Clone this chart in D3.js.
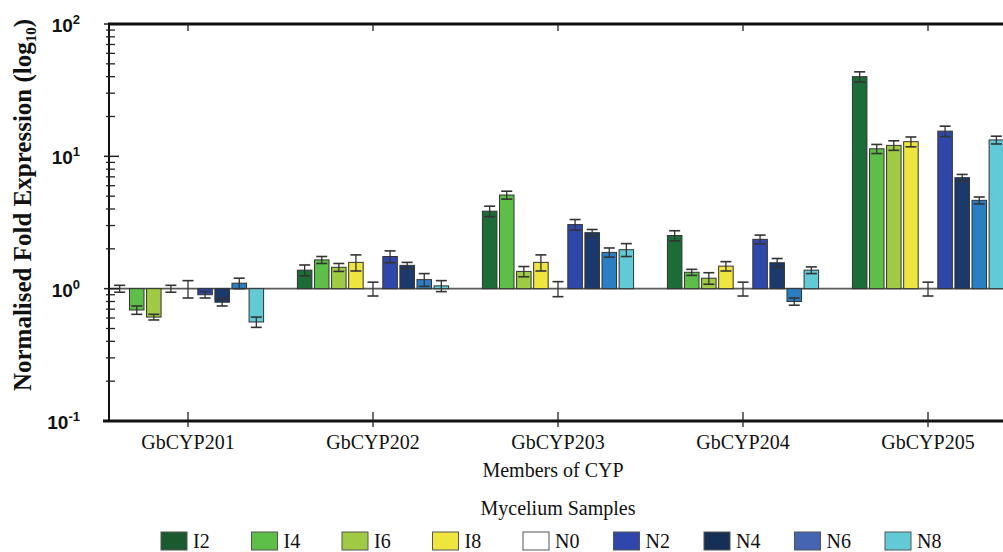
<!DOCTYPE html>
<html>
<head>
<meta charset="utf-8">
<script src="https://cdn.jsdelivr.net/npm/d3@7"></script>
<style>
  body { margin: 0; background: #fff; }
  svg { display: block; }
</style>
</head>
<body>
<svg id="chart" width="1003" height="552"></svg>
<script>
'use strict';

// Données
const genes = ["GbCYP201", "GbCYP202", "GbCYP203", "GbCYP204", "GbCYP205"];
const samples = ["I2", "I4", "I6", "I8", "N0", "N2", "N4", "N6", "N8"];

const meanCYP201 = [1.00, 0.69, 0.61, 1.00, 1.00, 0.90, 0.79, 1.10, 0.56];
const errCYP201  = [0.06, 0.05, 0.03, 0.06, 0.15, 0.05, 0.05, 0.10, 0.05];
const meanCYP202 = [1.38, 1.65, 1.45, 1.58, 1.00, 1.75, 1.50, 1.17, 1.05];
const errCYP202  = [0.13, 0.10, 0.10, 0.22, 0.12, 0.18, 0.08, 0.13, 0.10];
const meanCYP203 = [3.85, 5.10, 1.35, 1.58, 1.00, 3.05, 2.65, 1.88, 1.97];
const errCYP203  = [0.35, 0.35, 0.12, 0.22, 0.13, 0.28, 0.15, 0.15, 0.22];
const meanCYP204 = [2.52, 1.33, 1.20, 1.48, 1.00, 2.36, 1.57, 0.80, 1.38];
const errCYP204  = [0.22, 0.07, 0.12, 0.12, 0.12, 0.18, 0.12, 0.05, 0.08];
const meanCYP205 = [40.0, 11.4, 12.1, 12.9, 1.00, 15.5, 6.90, 4.65, 13.3];
const errCYP205  = [3.5, 0.9, 1.0, 1.1, 0.12, 1.4, 0.4, 0.28, 0.9];

const means = [meanCYP201, meanCYP202, meanCYP203, meanCYP204, meanCYP205];
const errors = [errCYP201, errCYP202, errCYP203, errCYP204, errCYP205];

const barColors = ["#1c6c38", "#5dbe48", "#9fcb42", "#eee63e", "#ffffff",
                   "#2f47aa", "#1b3a6b", "#2a7fc4", "#62c9d6"];
const legendColors = ["#1a5a2f", "#5dbe48", "#9fcb42", "#eee63e", "#ffffff",
                      "#2f47aa", "#163055", "#4565b3", "#62c9d6"];

const decades = [0.1, 1, 10, 100];
const decadeExp = ["-1", "0", "1", "2"];

const svg = d3.select("#chart");
const serif = "'Liberation Serif', 'Times New Roman', Times, serif";
const sans = "'Liberation Sans', Arial, sans-serif";

// Echelles
const x = d3.scalePoint().domain(genes).range([109, 1007]).padding(0.427);
const xInner = d3.scaleBand().domain(samples).range([-75.6, 75.6]).paddingInner(0.15);
const y = d3.scaleLog().domain([0.1, 100]).range([421, 24]);

// Ligne de base à 10^0
svg.append("line")
    .attr("x1", 109).attr("x2", 1003)
    .attr("y1", y(1)).attr("y2", y(1))
    .attr("stroke", "#5a5a5a").attr("stroke-width", 1.6);

// Barres + barres d'erreur
const rows = [];
genes.forEach((g, gi) => {
    samples.forEach((s, si) => {
        rows.push({ gene: g, sample: s, idx: si, v: means[gi][si], e: errors[gi][si] });
    });
});

const groups = svg.append("g").selectAll("g.bar")
    .data(rows)
    .join("g")
    .attr("class", "bar")
    .attr("transform", d => `translate(${x(d.gene) + xInner(d.sample)},0)`);

groups.filter(d => d.v !== 1).append("rect")
    .attr("x", 0)
    .attr("width", xInner.bandwidth())
    .attr("y", d => Math.min(y(d.v), y(1)))
    .attr("height", d => Math.abs(y(d.v) - y(1)))
    .attr("fill", d => barColors[d.idx])
    .attr("stroke", "#333")
    .attr("stroke-width", 1);

const bw = xInner.bandwidth();
const capW = 11;
groups.append("line")
    .attr("x1", bw / 2).attr("x2", bw / 2)
    .attr("y1", d => y(d.v + d.e)).attr("y2", d => y(d.v - d.e))
    .attr("stroke", "#333").attr("stroke-width", 1.3);
groups.append("line")
    .attr("x1", bw / 2 - capW / 2).attr("x2", bw / 2 + capW / 2)
    .attr("y1", d => y(d.v + d.e)).attr("y2", d => y(d.v + d.e))
    .attr("stroke", "#333").attr("stroke-width", 1.6);
groups.append("line")
    .attr("x1", bw / 2 - capW / 2).attr("x2", bw / 2 + capW / 2)
    .attr("y1", d => y(d.v - d.e)).attr("y2", d => y(d.v - d.e))
    .attr("stroke", "#333").attr("stroke-width", 1.6);

// Axe Y : ticks majeurs et mineurs
const minors = [];
decades.slice(0, 3).forEach(d => {
    for (let k = 2; k <= 9; k++) minors.push(d * k);
});
svg.append("line")
    .attr("x1", 109).attr("x2", 109).attr("y1", 24).attr("y2", 421)
    .attr("stroke", "#111").attr("stroke-width", 2);
svg.append("g").selectAll("line")
    .data(minors)
    .join("line")
    .attr("x1", 106).attr("x2", 115)
    .attr("y1", d => y(d)).attr("y2", d => y(d))
    .attr("stroke", "#222").attr("stroke-width", 1.3);
svg.append("g").selectAll("line")
    .data(decades)
    .join("line")
    .attr("x1", 104).attr("x2", 119)
    .attr("y1", d => y(d)).attr("y2", d => y(d))
    .attr("stroke", "#222").attr("stroke-width", 1.5);

const yLabels = svg.append("g").selectAll("text")
    .data(decades)
    .join("text")
    .attr("x", 80)
    .attr("y", d => y(d) + 8)
    .attr("text-anchor", "end")
    .style("font-family", sans)
    .attr("font-weight", "bold")
    .attr("font-size", 19)
    .attr("fill", "#111");
yLabels.append("tspan").text("10");
yLabels.append("tspan")
    .attr("font-size", 13)
    .attr("dy", -8)
    .text((d, i) => decadeExp[i]);

// Cadre haut et axe X
svg.append("line")
    .attr("x1", 108).attr("x2", 1003).attr("y1", 24).attr("y2", 24)
    .attr("stroke", "#111").attr("stroke-width", 3);
svg.append("line")
    .attr("x1", 103).attr("x2", 1003).attr("y1", 421).attr("y2", 421)
    .attr("stroke", "#111").attr("stroke-width", 3);
svg.append("g").selectAll("line")
    .data(genes)
    .join("line")
    .attr("x1", d => x(d)).attr("x2", d => x(d))
    .attr("y1", 412).attr("y2", 427)
    .attr("stroke", "#222").attr("stroke-width", 1.3);
svg.append("g").selectAll("line")
    .data(genes)
    .join("line")
    .attr("x1", d => x(d)).attr("x2", d => x(d))
    .attr("y1", 24).attr("y2", 31)
    .attr("stroke", "#222").attr("stroke-width", 1.3);

svg.append("g").selectAll("text")
    .data(genes)
    .join("text")
    .attr("x", d => x(d))
    .attr("y", 449)
    .attr("text-anchor", "middle")
    .style("font-family", serif)
    .attr("font-size", 20)
    .attr("fill", "#111")
    .text(d => d);

svg.append("text")
    .attr("x", 553).attr("y", 477)
    .attr("text-anchor", "middle")
    .style("font-family", serif).attr("font-size", 20).attr("fill", "#111")
    .text("Members of CYP");

// Titre axe Y
const yTitle = svg.append("text")
    .attr("transform", "translate(31,205) rotate(-90)")
    .attr("text-anchor", "middle")
    .style("font-family", serif)
    .attr("font-weight", "bold")
    .attr("font-size", 25)
    .attr("fill", "#111");
yTitle.append("tspan").text("Normalised Fold Expression (log");
yTitle.append("tspan").attr("font-size", 15).attr("dy", 5).text("10");
yTitle.append("tspan").attr("dy", -5).text(")");

// Légende
svg.append("text")
    .attr("x", 558).attr("y", 515)
    .attr("text-anchor", "middle")
    .style("font-family", serif).attr("font-size", 20).attr("fill", "#111")
    .text("Mycelium Samples");

const legendX = d3.scalePoint().domain(samples).range([161, 885]);
const items = svg.append("g").selectAll("g")
    .data(samples)
    .join("g")
    .attr("transform", d => `translate(${legendX(d)},532)`);
items.append("rect")
    .attr("width", 26).attr("height", 18)
    .attr("fill", (d, i) => legendColors[i])
    .attr("stroke", "#555").attr("stroke-width", 1);
items.append("text")
    .attr("x", 32).attr("y", 16)
    .style("font-family", serif).attr("font-size", 20).attr("fill", "#111")
    .text(d => d);
</script>
</body>
</html>
